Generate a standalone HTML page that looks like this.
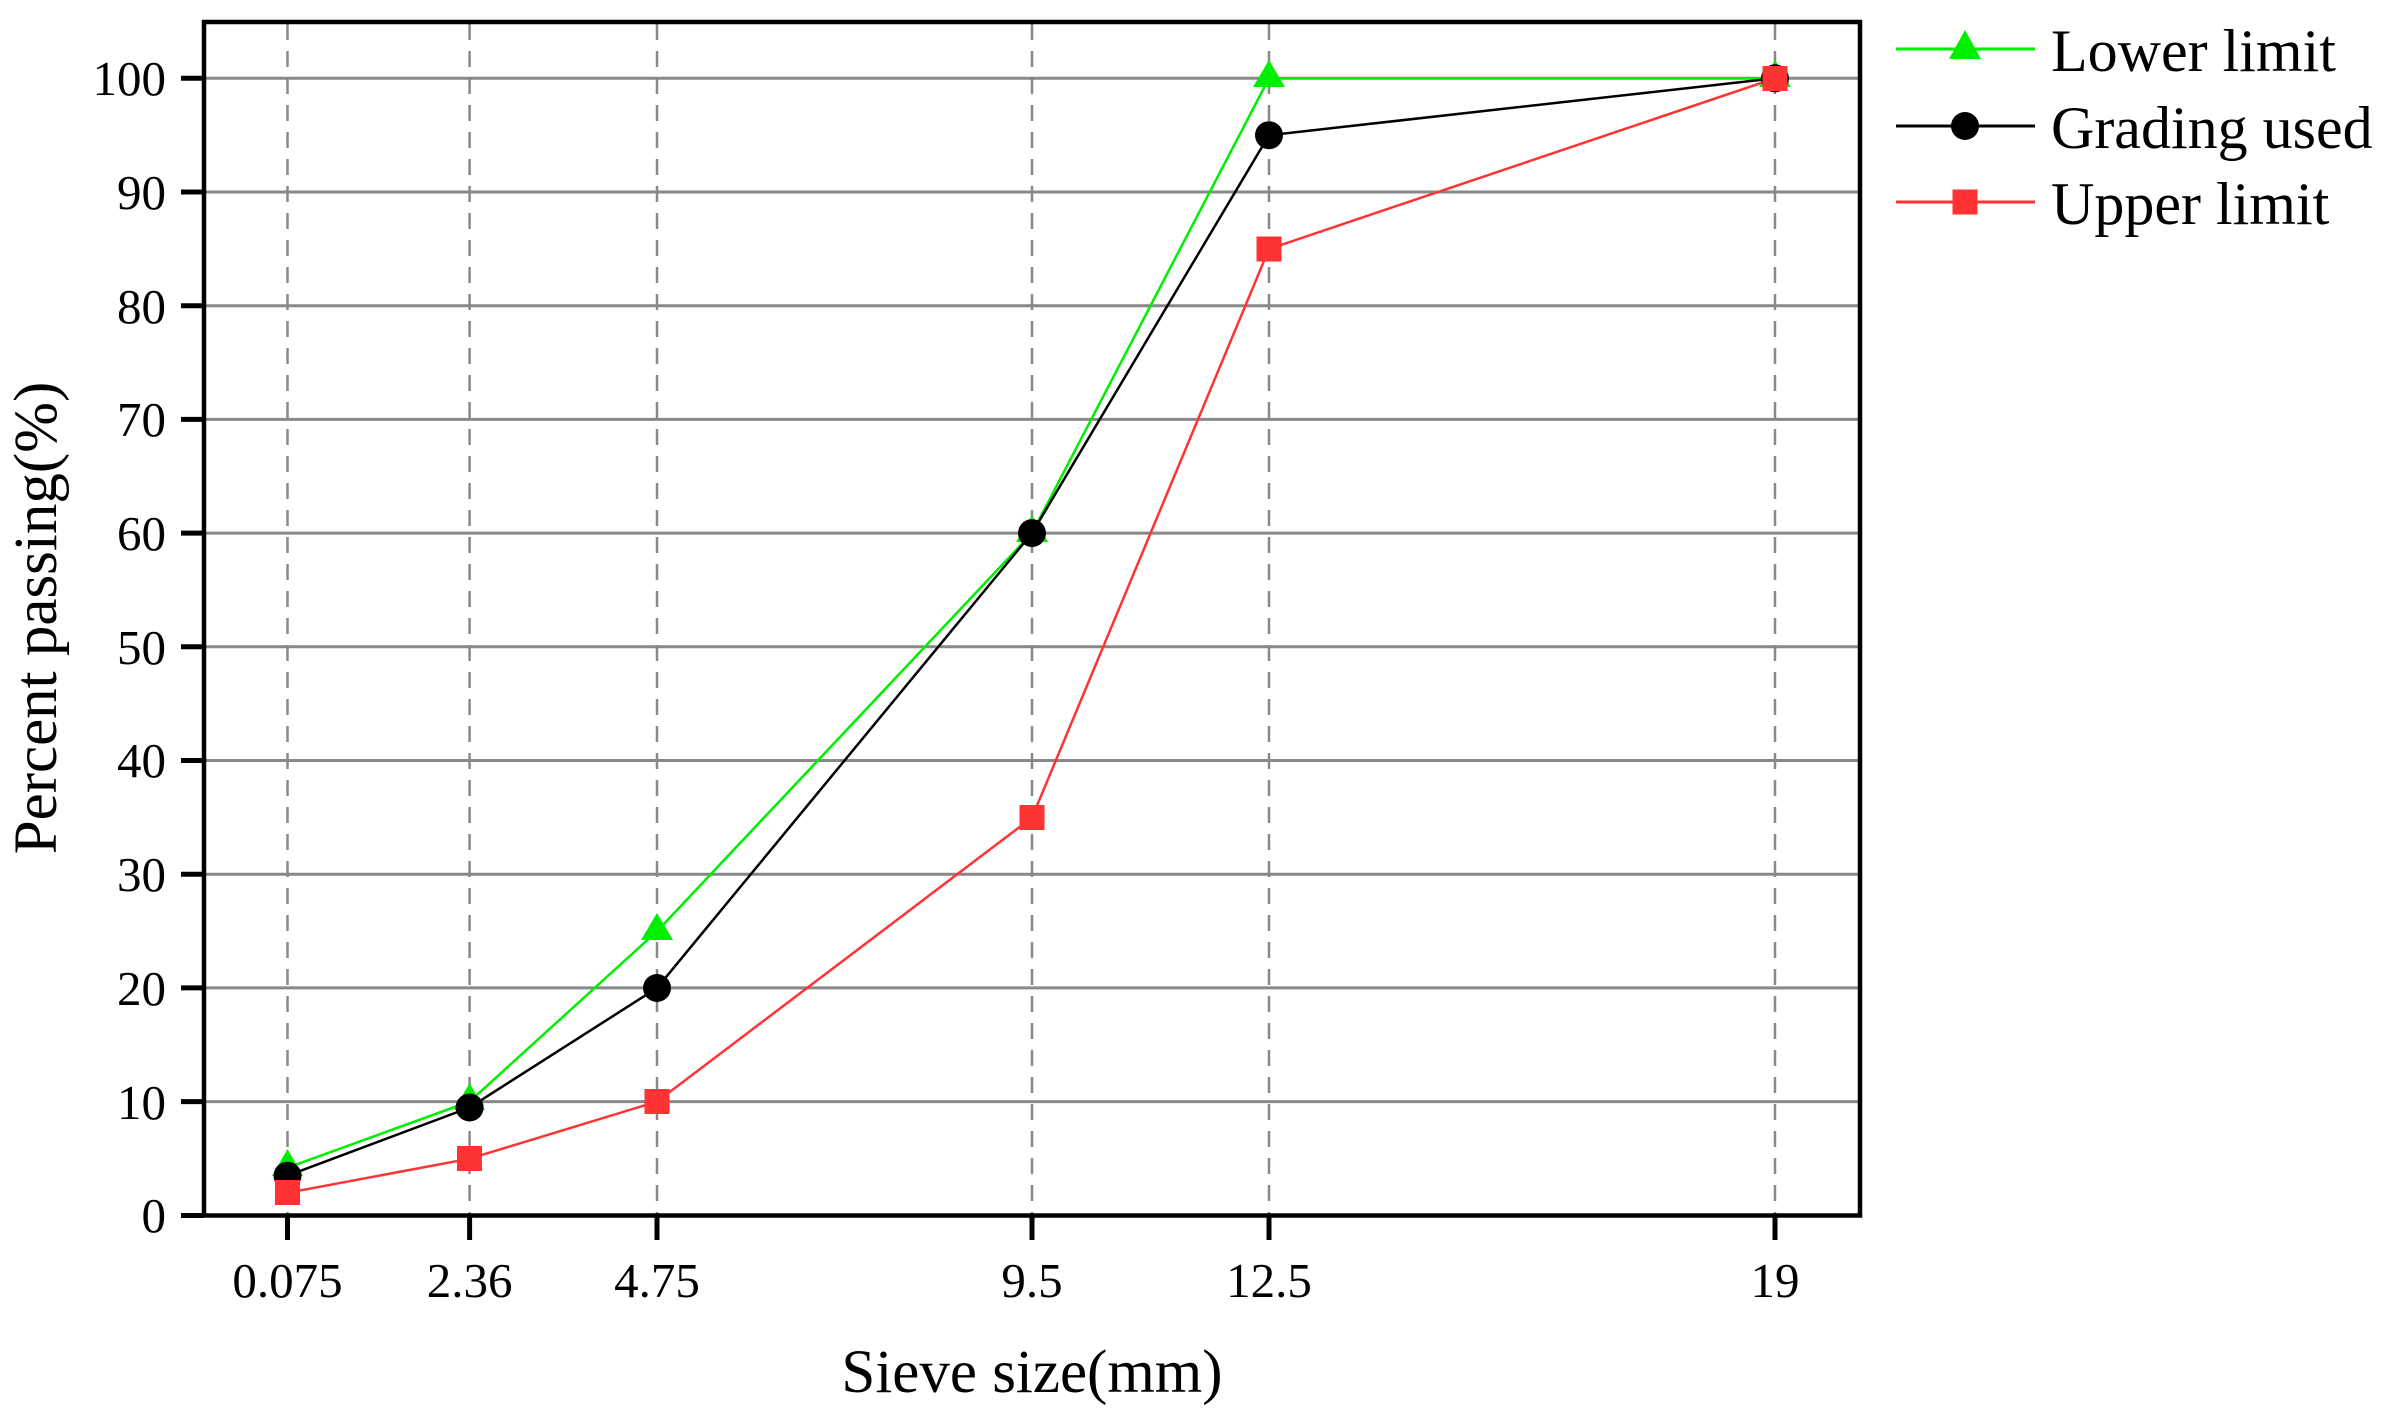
<!DOCTYPE html>
<html><head><meta charset="utf-8"><style>body{margin:0;background:#fff}svg{display:block}</style></head><body>
<svg width="2395" height="1419" xmlns="http://www.w3.org/2000/svg" font-family="Liberation Serif, serif">
<rect width="2395" height="1419" fill="#fff"/>
<g stroke="#888" stroke-width="3">
<line x1="204" x2="1860" y1="78.3" y2="78.3"/><line x1="204" x2="1860" y1="192" y2="192"/><line x1="204" x2="1860" y1="305.7" y2="305.7"/><line x1="204" x2="1860" y1="419.4" y2="419.4"/><line x1="204" x2="1860" y1="533.1" y2="533.1"/><line x1="204" x2="1860" y1="646.8" y2="646.8"/><line x1="204" x2="1860" y1="760.5" y2="760.5"/><line x1="204" x2="1860" y1="874.2" y2="874.2"/><line x1="204" x2="1860" y1="987.9" y2="987.9"/><line x1="204" x2="1860" y1="1101.6" y2="1101.6"/>
</g>
<g stroke="#888" stroke-width="2.5" stroke-dasharray="16,11">
<line x1="287.5" x2="287.5" y1="24" y2="1215"/><line x1="469.6" x2="469.6" y1="24" y2="1215"/><line x1="657" x2="657" y1="24" y2="1215"/><line x1="1032" x2="1032" y1="24" y2="1215"/><line x1="1269" x2="1269" y1="24" y2="1215"/><line x1="1775" x2="1775" y1="24" y2="1215"/>
</g>
<rect x="204" y="22" width="1656" height="1193.5" fill="none" stroke="#000" stroke-width="4.5"/>
<g stroke="#000" stroke-width="5">
<line x1="181" x2="204" y1="78.3" y2="78.3"/><line x1="181" x2="204" y1="192" y2="192"/><line x1="181" x2="204" y1="305.7" y2="305.7"/><line x1="181" x2="204" y1="419.4" y2="419.4"/><line x1="181" x2="204" y1="533.1" y2="533.1"/><line x1="181" x2="204" y1="646.8" y2="646.8"/><line x1="181" x2="204" y1="760.5" y2="760.5"/><line x1="181" x2="204" y1="874.2" y2="874.2"/><line x1="181" x2="204" y1="987.9" y2="987.9"/><line x1="181" x2="204" y1="1101.6" y2="1101.6"/><line x1="181" x2="204" y1="1215.5" y2="1215.5"/>
<line x1="287.5" x2="287.5" y1="1215" y2="1240"/><line x1="469.6" x2="469.6" y1="1215" y2="1240"/><line x1="657" x2="657" y1="1215" y2="1240"/><line x1="1032" x2="1032" y1="1215" y2="1240"/><line x1="1269" x2="1269" y1="1215" y2="1240"/><line x1="1775" x2="1775" y1="1215" y2="1240"/>
</g>
<g font-size="49" text-anchor="end">
<text x="166" y="95">100</text><text x="166" y="209">90</text><text x="166" y="323">80</text><text x="166" y="436">70</text><text x="166" y="550">60</text><text x="166" y="664">50</text><text x="166" y="777">40</text><text x="166" y="891">30</text><text x="166" y="1005">20</text><text x="166" y="1119">10</text><text x="166" y="1232">0</text>
</g>
<g font-size="49" text-anchor="middle">
<text x="287.5" y="1297">0.075</text><text x="469.6" y="1297">2.36</text><text x="657" y="1297">4.75</text><text x="1032" y="1297">9.5</text><text x="1269" y="1297">12.5</text><text x="1775" y="1297">19</text>
</g>
<text x="1032" y="1392" font-size="61" text-anchor="middle">Sieve size(mm)</text>
<text transform="translate(56,618) rotate(-90)" font-size="61" text-anchor="middle">Percent passing(%)</text>
<polyline fill="none" stroke="#00ee00" stroke-width="2.5" points="287.5,1167.7 469.6,1101.6 657,931.3 1032,533.1 1269,78.3 1775,78.3"/>
<polyline fill="none" stroke="#000" stroke-width="2.5" points="287.5,1175.7 469.6,1107.5 657,988 1032,533.1 1269,135.2 1775,78.3"/>
<polyline fill="none" stroke="#ff3333" stroke-width="2.5" points="287.5,1192.8 469.6,1158.7 657,1101.6 1032,817.6 1269,249 1775,78.3"/>
<g fill="#00ee00">
<polygon points="287.5,1149 272,1176 303,1176"/><polygon points="469.6,1083 454,1110 485,1110"/><polygon points="657,913 641,940 673,940"/><polygon points="1032,515 1016,542 1048,542"/><polygon points="1269,60 1253,87 1285,87"/><polygon points="1775,60 1759,87 1791,87"/>
</g>
<g fill="#000">
<circle cx="287.5" cy="1175.7" r="14"/><circle cx="469.6" cy="1107.5" r="14"/><circle cx="657" cy="988" r="14"/><circle cx="1032" cy="533.1" r="14"/><circle cx="1269" cy="135.2" r="14"/><circle cx="1775" cy="78.3" r="14"/>
</g>
<g fill="#ff3333">
<rect x="275" y="1180" width="25" height="25"/><rect x="457" y="1146" width="25" height="25"/><rect x="644.5" y="1089" width="25" height="25"/><rect x="1019.5" y="805" width="25" height="25"/><rect x="1256.5" y="236.5" width="25" height="25"/><rect x="1762.5" y="66" width="25" height="25"/>
</g>
<line x1="1896" x2="2035" y1="49" y2="49" stroke="#00ee00" stroke-width="3"/>
<polygon points="1965,30 1949,59 1981,59" fill="#00ee00"/>
<line x1="1896" x2="2035" y1="126" y2="126" stroke="#000" stroke-width="3"/>
<circle cx="1965" cy="126" r="14" fill="#000"/>
<line x1="1896" x2="2035" y1="202" y2="202" stroke="#ff3333" stroke-width="3"/>
<rect x="1952.5" y="189.5" width="25" height="25" fill="#ff3333"/>
<g font-size="60">
<text x="2051" y="71">Lower limit</text><text x="2051" y="148">Grading used</text><text x="2051" y="224">Upper limit</text>
</g>
</svg>
</body></html>
